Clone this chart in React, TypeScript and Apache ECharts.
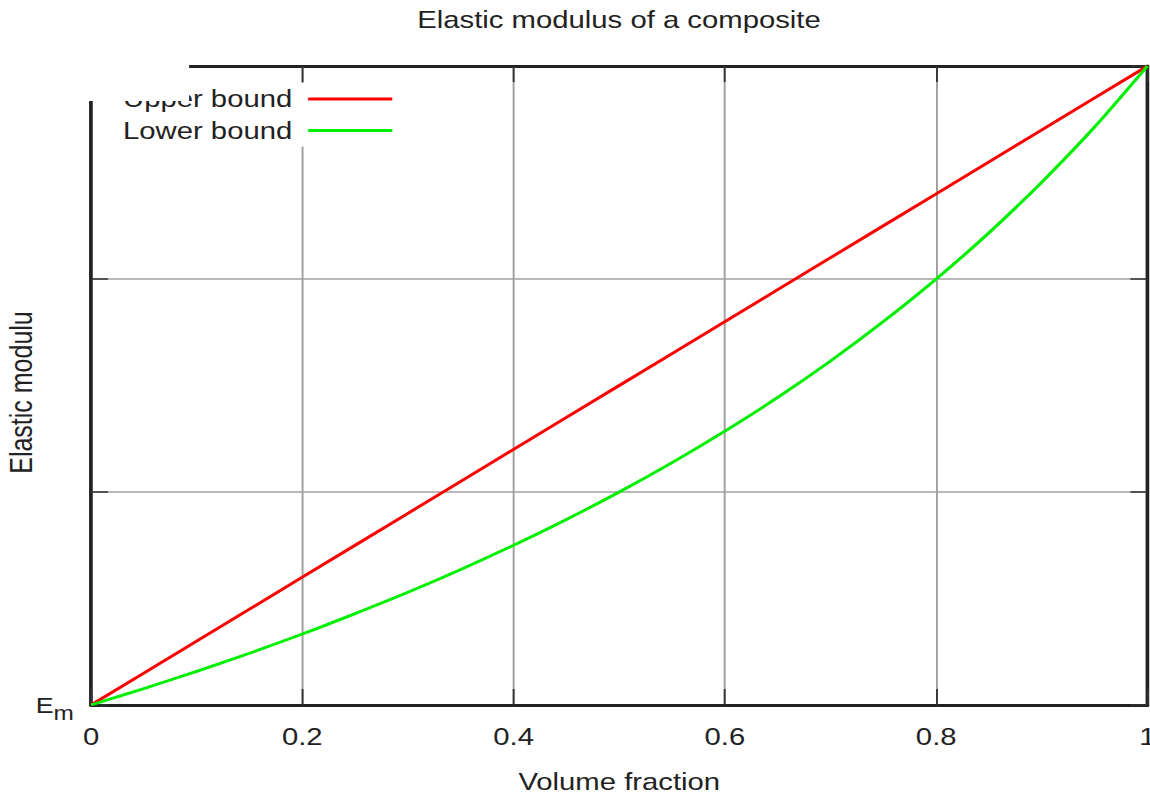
import React, { useEffect, useRef } from "react";
import * as echarts from "echarts";

// Volume fraction of the reinforcement (x axis)
const fractions = [0, 0.05, 0.1, 0.15, 0.2, 0.25, 0.3, 0.35, 0.4, 0.45, 0.5, 0.55, 0.6, 0.65, 0.7, 0.75, 0.8, 0.85, 0.9, 0.95, 1];
// Elastic modulus, arbitrary units (Em = 3, Ef = 6)
const upperBound = [3.0, 3.15, 3.3, 3.45, 3.6, 3.75, 3.9, 4.05, 4.2, 4.35, 4.5, 4.65, 4.8, 4.95, 5.1, 5.25, 5.4, 5.55, 5.7, 5.85, 6.0];
const lowerBound = [3.0, 3.077, 3.158, 3.243, 3.333, 3.429, 3.529, 3.636, 3.75, 3.871, 4.0, 4.138, 4.286, 4.444, 4.615, 4.8, 5.0, 5.217, 5.455, 5.714, 6.0];
const seriesNames = ["Upper bound", "Lower bound"];
const seriesColors = ["#ff0000", "#00ee00"];
const titleText = "Elastic modulus of a composite";
const xName = "Volume fraction";
const yName = "Elastic modulu";
const yMin = 3;
const yMax = 6;

const STRETCH = 1.22;
const W = 1150 / STRETCH;
const H = 798;
const FONT = "'Liberation Sans', Arial, sans-serif";
const TEXT = "#222";

export default function App() {
  const ref = useRef<HTMLDivElement>(null);
  useEffect(() => {
    if (!ref.current) return;
    const chart = echarts.init(ref.current, null, { renderer: "svg" });
    const axisLine = { show: true, onZero: false, lineStyle: { color: "#222", width: 3 } };
    const tickStyle = { color: "#333", width: 1.5 };
    chart.setOption({
      animation: false,
      backgroundColor: "#fff",
      textStyle: { fontFamily: FONT },
      title: {
        text: titleText,
        left: 342,
        top: 8,
        padding: 0,
        textStyle: { fontSize: 24, fontWeight: "normal", color: TEXT, fontFamily: FONT },
      },
      legend: {
        data: seriesNames.map((n) => ({ name: n, icon: "rect" })),
        orient: "vertical",
        align: "right",
        left: 96.8,
        top: 83,
        padding: 4,
        itemGap: 7.5,
        itemWidth: 69,
        itemHeight: 3,
        selectedMode: false,
        backgroundColor: "#fff",
        textStyle: { fontSize: 24, color: TEXT, lineHeight: 24, padding: [0, 8, 0, 0], fontFamily: FONT },
      },
      grid: {
        left: 74.6,
        right: W - 940.2,
        top: 66,
        bottom: H - 705,
        containLabel: false,
        outerBoundsMode: "none",
      },
      xAxis: [
        {
          type: "value",
          position: "bottom",
          min: 0,
          max: 1,
          interval: 0.2,
          name: xName,
          nameLocation: "middle",
          nameGap: 65,
          nameMoveOverlap: false,
          nameTextStyle: { fontSize: 24, color: TEXT, fontFamily: FONT },
          axisLine,
          axisTick: { show: true, inside: true, length: 16, lineStyle: tickStyle },
          axisLabel: {
            fontSize: 24,
            color: TEXT,
            margin: 20,
            fontFamily: FONT,
            formatter: (v: number) => String(parseFloat(v.toFixed(2))),
          },
          splitLine: { show: true, lineStyle: { color: "#a0a0a0", width: 1.6 } },
        },
        {
          type: "value",
          position: "top",
          min: 0,
          max: 1,
          interval: 0.2,
          axisLine,
          axisTick: { show: true, inside: true, length: 16, lineStyle: tickStyle },
          axisLabel: { show: false },
          splitLine: { show: false },
        },
      ],
      yAxis: [
        {
          type: "value",
          position: "left",
          min: yMin,
          max: yMax,
          interval: 1,
          name: yName,
          nameLocation: "middle",
          nameGap: 44,
          nameMoveOverlap: false,
          nameTextStyle: { fontSize: 25, color: TEXT, fontFamily: FONT, padding: [0, 14, 0, 0] },
          axisLine,
          axisTick: { show: true, inside: true, length: 14, lineStyle: tickStyle },
          axisLabel: {
            margin: 14,
            fontFamily: FONT,
            formatter: (v: number) => (v === yMin ? "{e|E}{m|m}" : ""),
            rich: {
              e: { fontSize: 22, color: TEXT, fontFamily: FONT },
              m: { fontSize: 20, color: TEXT, fontFamily: FONT, padding: [16, 0, 0, 0] },
            },
          },
          splitLine: { show: true, lineStyle: { color: "#a0a0a0", width: 1.6 } },
        },
        {
          type: "value",
          position: "right",
          min: yMin,
          max: yMax,
          interval: 1,
          axisLine,
          axisTick: { show: true, inside: true, length: 14, lineStyle: tickStyle },
          axisLabel: { show: false },
          splitLine: { show: false },
        },
      ],
      graphic: [
        {
          type: "rect",
          z: 100,
          shape: { x: 0, y: 40, width: 155, height: 61 },
          style: { fill: "#fff" },
          silent: true,
        },
      ],
      series: [
        {
          name: seriesNames[0],
          type: "line",
          data: fractions.map((f, i) => [f, upperBound[i]]),
          showSymbol: false,
          symbol: "none",
          lineStyle: { color: seriesColors[0], width: 2.8 },
          itemStyle: { color: seriesColors[0] },
        },
        {
          name: seriesNames[1],
          type: "line",
          data: fractions.map((f, i) => [f, lowerBound[i]]),
          smooth: 0.25,
          showSymbol: false,
          symbol: "none",
          lineStyle: { color: seriesColors[1], width: 2.8 },
          itemStyle: { color: seriesColors[1] },
        },
      ],
    });
    return () => chart.dispose();
  }, []);
  return (
    <div
      style={{
        position: "absolute",
        left: 0,
        top: 0,
        width: 1150,
        height: H,
        overflow: "hidden",
      }}
    >
      <div
        ref={ref}
        style={{
          width: W,
          height: H,
          transform: `scaleX(${STRETCH})`,
          transformOrigin: "0 0",
        }}
      />
    </div>
  );
}
